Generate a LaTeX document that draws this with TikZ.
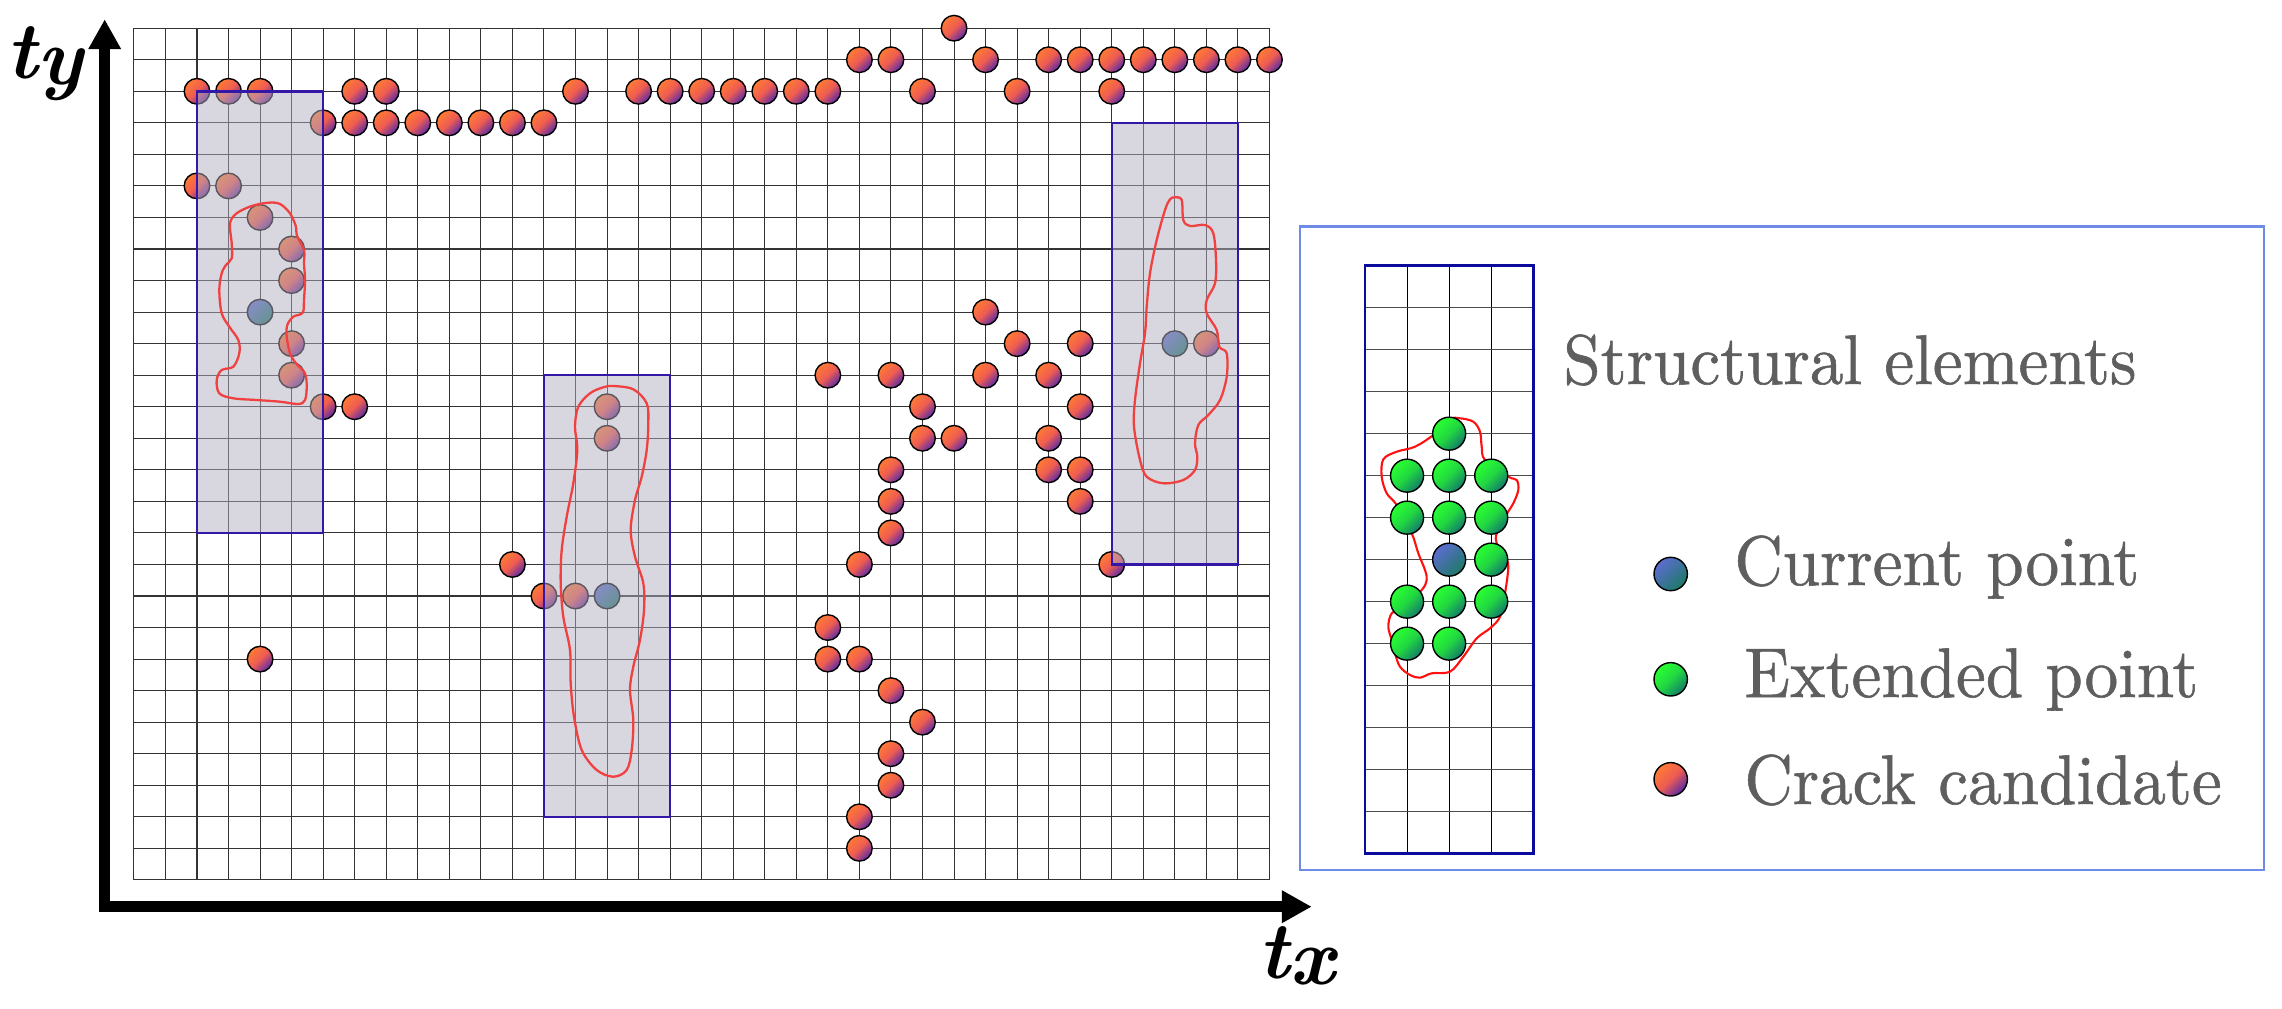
\documentclass[tikz,border=0pt]{standalone}
\usepackage{fontspec}
\usetikzlibrary{arrows.meta}
\definecolor{crA}{HTML}{FF7A34}
\definecolor{crB}{HTML}{EE5C52}
\definecolor{crC}{HTML}{5A2AA8}
\definecolor{cuA}{HTML}{5C6CD0}
\definecolor{cuC}{HTML}{1E7A66}
\definecolor{exA}{HTML}{28FF30}
\definecolor{exC}{HTML}{127A6A}
\definecolor{recfill}{HTML}{B1ADBD}
\definecolor{recline}{HTML}{3318A8}
\definecolor{contourred}{HTML}{F04040}
\definecolor{legred}{HTML}{FF1010}
\definecolor{legline}{HTML}{6F8BE8}
\definecolor{legin}{HTML}{0A0A9C}
\definecolor{txtgray}{HTML}{5E5E5E}
\newfontface\legface{lmroman10-regular.otf}[FakeStretch=0.955, FakeBold=0.8]
\newcommand\legfont{\legface\fontsize{40}{44}\selectfont}
\tikzset{
  gridline/.style={draw=black!80, line width=0.6pt},
  crackdot/.style={draw=black, line width=0.8pt, top color=crA, bottom color=crC, middle color=crB, shading angle=45},
  curdot/.style={draw=black, line width=0.8pt, top color=cuA, bottom color=cuC, shading angle=45},
  extdot/.style={draw=black, line width=0.8pt, top color=exA, bottom color=exC, middle color=exA!70!exC, shading angle=45},
  overlay rect/.style={fill=recfill, fill opacity=0.5},
  rect border/.style={draw=recline, line width=1.4pt},
  crackline/.style={draw=contourred, line width=1.3pt},
  legtext/.style={anchor=base west, inner sep=0pt, text=txtgray, font=\legfont},
  axislab/.style={anchor=base west, inner sep=0pt, font=\fontsize{46}{50}\selectfont\bfseries\itshape},
}
\begin{document}
\begin{tikzpicture}[x=0.02cm, y=-0.02cm]
\useasboundingbox (0,0) rectangle (2282,1008);

% ---------------- main grid ----------------
\begin{scope}[shift={(133.9,28.2)}, x=0.631cm, y=-0.631cm]
  \foreach \i in {0,...,36} \draw[gridline] (\i,0) -- (\i,27);
  \foreach \j in {0,...,27} \draw[gridline] (0,\j) -- (36,\j);
  % crack candidates
  \foreach \c/\r in {26/0,
    23/1,24/1,27/1,29/1,30/1,31/1,32/1,33/1,34/1,35/1,36/1,
    2/2,3/2,4/2,7/2,8/2,14/2,16/2,17/2,18/2,19/2,20/2,21/2,22/2,25/2,28/2,31/2,
    6/3,7/3,8/3,9/3,10/3,11/3,12/3,13/3,
    2/5,3/5,4/6,5/7,5/8,27/9,
    5/10,28/10,30/10,34/10,
    5/11,22/11,24/11,27/11,29/11,
    6/12,7/12,15/12,25/12,30/12,
    15/13,25/13,26/13,29/13,
    24/14,29/14,30/14,24/15,30/15,24/16,
    12/17,23/17,31/17,
    13/18,14/18,22/19,4/20,22/20,23/20,
    24/21,25/22,24/23,24/24,23/25,23/26}
    \shadedraw[crackdot] (\c,\r) circle[radius=0.256cm];
  % current points
  \foreach \c/\r in {4/9,33/10,15/18}
    \shadedraw[curdot] (\c,\r) circle[radius=0.256cm];
  % structural element windows
  \fill[overlay rect] (2,2) rectangle (6,16);
  \fill[overlay rect] (13,11) rectangle (17,25);
  \fill[overlay rect] (31,3) rectangle (35,17);
  \draw[rect border] (2,2) rectangle (6,16);
  \draw[rect border] (13,11) rectangle (17,25);
  \draw[rect border] (31,3) rectangle (35,17);
\end{scope}

% ---------------- red contours ----------------
\draw[crackline] plot[smooth cycle, tension=0.55] coordinates {
 (268.3,202.7) (280,204) (290,213.3) (296,226.7) (296.7,235) (304,250) (304,263.3) (305,280)
 (304,300) (302.7,312.7) (293.3,316.7) (287.3,325) (286.7,336.7) (290,353.3) (296,363.3)
 (305,373.3) (306.7,386.7) (305,400) (298.3,404) (280,401.7) (256.7,400) (233.3,398.3)
 (219.3,393.3) (216.7,380) (221.7,370) (233.3,366.7) (239.3,353.3) (238.3,340) (229.3,326.7)
 (221.7,313.3) (219.3,290) (221.7,273.3) (226,265) (231.7,258.3) (231.7,243.3) (230,223.3)
 (236.7,213.3) (251.7,206)};
\draw[crackline] plot[smooth cycle, tension=0.55] coordinates {
 (613.3,386) (633.3,389.3) (646.7,403.3) (648.3,423.3) (646.7,450) (641.7,476.7) (635,500)
 (630.7,530) (635,556.7) (643.3,583.3) (644,610) (640,640) (633.3,666.7) (630,690)
 (633.3,720) (631.7,750) (626.7,770) (613.3,776.7) (596.7,770) (581.7,750) (574,716.7)
 (570.7,683.3) (570,650) (563.3,616.7) (560.7,583.3) (561.7,550) (566.7,516.7) (573.3,483.3)
 (577.3,450) (575,426.7) (578.3,406.7) (590,393.3) (603.3,387.3)};
\draw[crackline] plot[smooth cycle, tension=0.55] coordinates {
 (1175,197.3) (1181.7,200) (1183.3,220) (1190,226) (1205,225) (1213.3,233.3) (1216,260)
 (1215,283.3) (1206.7,300) (1206.7,313.3) (1216.7,330) (1219.3,346.7) (1226.7,353.3)
 (1226.7,376.7) (1220,400) (1208.3,415) (1198.3,425) (1195,443.3) (1197.3,456.7) (1195,470)
 (1183.3,480) (1163.3,483.3) (1146.7,476.7) (1140,460) (1134,426.7) (1135,400) (1140,363.3)
 (1145,333.3) (1146.7,306.7) (1150,273.3) (1156.7,240) (1165,210) (1170,199.3)};

% ---------------- axes ----------------
\coordinate (ytip) at (104.7,19.3);
\coordinate (orig) at (104.7,906.7);
\coordinate (xtip) at (1311.7,906.7);
\draw[line width=6.1pt, line join=miter,
  {Triangle[length=17pt, width=17.5pt]}-{Triangle[length=17pt, width=17.5pt]}]
  (ytip) -- (orig) -- (xtip);
\node[axislab] (ty) at (6,78) {t\raisebox{-0.08em}{y}};
\node[axislab] (tx) at (1258,978) {t\raisebox{-0.08em}{x}};

% ---------------- legend ----------------
\draw[draw=legline, line width=1.5pt] (1300,226.5) rectangle (2264,870);
\begin{scope}[shift={(1365,265.7)}, x=0.8416cm, y=-0.84cm]
  \foreach \i in {0,...,4} \draw[draw=black, line width=0.5pt] (\i,0) -- (\i,14);
  \foreach \j in {0,...,14} \draw[draw=black!70, line width=0.5pt] (0,\j) -- (4,\j);
\end{scope}
\draw[draw=legred, line width=1.2pt] plot[smooth cycle, tension=0.55] coordinates {
 (1383.3,459.3) (1381.7,476.7) (1386.7,493.3) (1396.7,505) (1411.7,533.3) (1418.3,553.3)
 (1425,570) (1426.7,580) (1421.7,590) (1403.3,606.7) (1391.7,613.3) (1388.3,626.7)
 (1391.7,640) (1395,653.3) (1400,666.7) (1410,675) (1420,677.7) (1431.7,673.3) (1450,671.7)
 (1463.3,656.7) (1476.7,638.3) (1490,628.3) (1500,616.7) (1505,593.3) (1508.3,566.7)
 (1505,556.7) (1496.7,543.3) (1496.7,533.3) (1505,516.7) (1513.3,503.3) (1518.3,490)
 (1516.7,480) (1508.3,476.7) (1485,460) (1481.7,446.7) (1480,431.7) (1473.3,421.7)
 (1460,418.3) (1450,419.3) (1433.3,435) (1415,446.7) (1396.7,451.7)};
\begin{scope}[shift={(1365,265.7)}, x=0.8416cm, y=-0.84cm]
  \foreach \c/\r in {2/4,1/5,2/5,3/5,1/6,2/6,3/6,3/7,1/8,2/8,3/8,1/9,2/9}
    \shadedraw[extdot] (\c,\r) circle[radius=0.33cm];
  \shadedraw[curdot] (2,7) circle[radius=0.33cm];
  \draw[draw=legin, line width=1.5pt] (0,0) rectangle (4,14);
\end{scope}
\shadedraw[curdot] (1670.7,574) circle[radius=0.334cm];
\shadedraw[extdot] (1670.7,679.3) circle[radius=0.334cm];
\shadedraw[crackdot] (1670.7,779.3) circle[radius=0.334cm];
\node[legtext] (se) at (1563,384) {Structural elements};
\node[legtext] (cp) at (1734,585) {Current point};
\node[legtext] (ep) at (1744,697) {Extended point};
\node[legtext] (cc) at (1744,804) {Crack candidate};
\end{tikzpicture}
\end{document}
